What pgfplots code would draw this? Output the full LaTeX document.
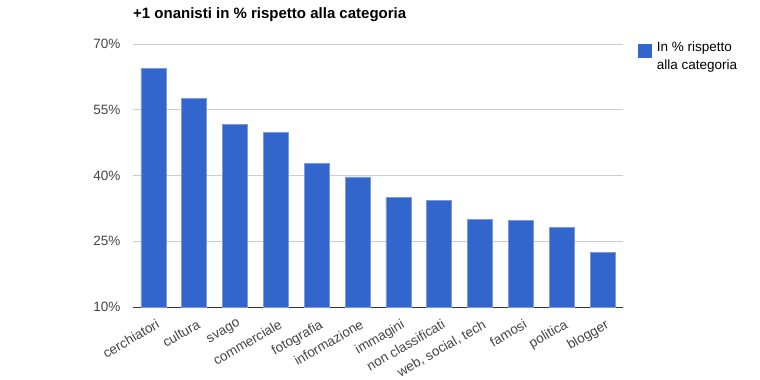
\documentclass[border=0pt]{standalone}
\usepackage{pgfplots}
\pgfplotsset{compat=1.18}
\usepackage{fontspec}
\setmainfont{Liberation Sans}
\definecolor{barblue}{HTML}{3366CC}
\definecolor{barborder}{HTML}{7A99DE}
\definecolor{gridgray}{HTML}{CCCCCC}
\definecolor{labgray}{HTML}{444444}
\begin{document}
\begin{tikzpicture}[x=1pt,y=1pt]
\path[use as bounding box] (0,0) rectangle (760,380);
\begin{axis}[
  at={(133pt,73pt)}, anchor=south west,
  scale only axis, width=490pt, height=263pt,
  xmin=-0.5, xmax=11.5, ymin=10, ymax=70,
  ytick={10,25,40,55,70},
  yticklabel={\pgfmathprintnumber{\tick}\%},
  /pgf/number format/assume math mode=true,
  xtick={0,...,11},
  xticklabels={cerchiatori,cultura,svago,commerciale,fotografia,informazione,immagini,non classificati,{web, social, tech},famosi,politica,blogger},
  xticklabel style={rotate=30, anchor=north east, font=\fontsize{13.5}{15}\selectfont, text=labgray, inner sep=1pt, yshift=-10pt, xshift=-3pt},
  yticklabel style={font=\fontsize{13.5}{15}\selectfont, text=labgray, xshift=-9pt},
  major tick length=0pt,
  ymajorgrids, grid style={gridgray, line width=0.8pt},
  axis x line*=bottom, axis y line*=left,
  x axis line style={draw=black!80, line width=0.8pt, -},
  y axis line style={draw=none},
  ybar, bar width=25pt,
  legend style={draw=none, at={(1,1)}, anchor=north west, xshift=13pt, yshift=6pt,
     font=\fontsize{13.5}{18}\selectfont, cells={align=left}, inner sep=2pt},
  legend image code/.code={\fill[barblue] (0pt,0pt) rectangle (13pt,13pt);\path (16pt,0pt);},
]
\addplot[fill=barblue, draw=barborder, line width=0.6pt] coordinates {
(0,64.5) (1,57.6) (2,51.7) (3,49.8) (4,42.7) (5,39.7)
(6,35.0) (7,34.4) (8,30.0) (9,29.8) (10,28.2) (11,22.5)};
\addlegendentry{In \% rispetto\\alla categoria}
\end{axis}
\node[anchor=base west, font=\bfseries\fontsize{15}{17}\selectfont, inner sep=0pt] at (133,361) {+1 onanisti in \% rispetto alla categoria};
\end{tikzpicture}
\end{document}
